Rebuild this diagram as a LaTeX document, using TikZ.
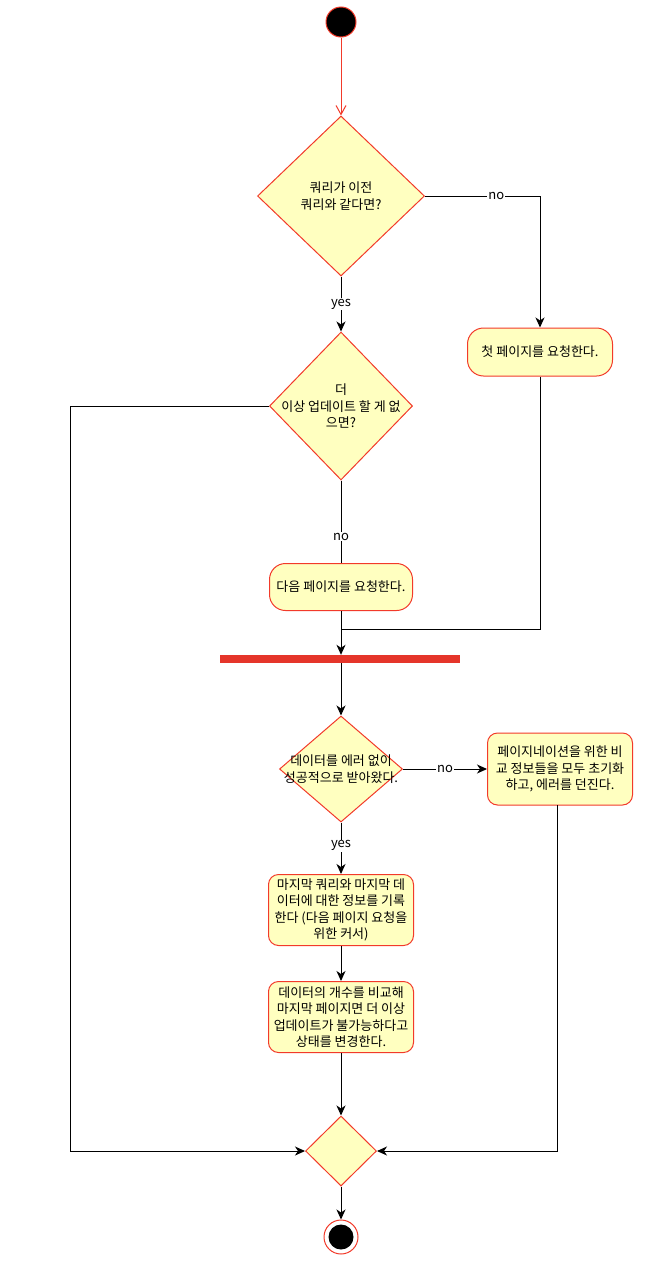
\documentclass[tikz,border=0pt]{standalone}
\usepackage{fontspec}
\setmainfont{Noto Sans CJK KR}
\usetikzlibrary{shapes.geometric,arrows.meta}

\definecolor{actfill}{HTML}{FFFFC0}
\definecolor{actline}{HTML}{F23A2A}
\definecolor{barfill}{HTML}{E5352A}

\tikzset{
  x=1pt, y=-1pt,
  every node/.style={font=\fontsize{13}{16.5}\selectfont},
  action/.style={rectangle, draw=actline, fill=actfill, line width=1pt,
    rounded corners=10pt, align=center, inner sep=2pt},
  cond/.style={diamond, draw=actline, fill=actfill, line width=1pt, inner sep=0pt},
  ctext/.style={align=center},
  flow/.style={line width=1pt, -{Stealth[length=10pt, width=9pt, inset=3pt]}},
  line/.style={line width=1pt},
  lbl/.style={fill=white, inner sep=1pt},
}

\begin{document}
\begin{tikzpicture}
\useasboundingbox (0,0) rectangle (660,1282);
\node[circle, fill=black, draw=actline, line width=1pt, minimum size=30pt, inner sep=0pt] (start) at (341,22) {};
\node[cond, minimum width=167pt, minimum height=160pt,
  label={[ctext]center:{쿼리가 이전\\쿼리와 같다면?}}] (q1) at (341,196) {};
\node[action, rounded corners=16pt, minimum width=145pt, minimum height=48pt] (first) at (540,352) {첫 페이지를 요청한다.};
\node[cond, minimum width=143pt, minimum height=148pt,
  label={[ctext]center:{더\\이상 업데이트 할 게 없\\으면?}}] (q2) at (341,406) {};
\node[action, rounded corners=16pt, minimum width=143pt, minimum height=47pt] (next) at (341,587) {다음 페이지를 요청한다.};
\node[rectangle, fill=barfill, minimum width=240pt, minimum height=8pt, inner sep=0pt] (bar) at (340,659) {};
\coordinate (meet) at (341,629);
\node[cond, minimum width=123pt, minimum height=106pt,
  label={[ctext]center:{데이터를 에러 없이\\성공적으로 받아왔다.}}] (q3) at (341,769) {};
\node[action, minimum width=145pt, minimum height=72pt] (reset) at (560,769) {페이지네이션을 위한 비\\교 정보들을 모두 초기화\\하고, 에러를 던진다.};
\coordinate (resetout) at (557,805);
\node[action, minimum width=145pt, minimum height=71pt] (record) at (341,910) {마지막 쿼리와 마지막 데\\이터에 대한 정보를 기록\\한다 (다음 페이지 요청을\\위한 커서)};
\node[action, minimum width=145pt, minimum height=71pt] (update) at (341,1017) {데이터의 개수를 비교해\\마지막 페이지면 더 이상\\업데이트가 불가능하다고\\상태를 변경한다.};
\node[cond, minimum width=71pt, minimum height=70pt] (merge) at (341,1151) {};
\node[circle, draw=actline, fill=white, line width=1pt, minimum size=34pt, inner sep=0pt] (stop) at (341,1237) {};
\fill (stop.center) circle (12.5);

% flows
\draw[line, actline, -{Straight Barb[length=9pt, width=10pt]}] (start) -- (q1);
\draw[flow] (q1.east) -| node[lbl, pos=0.31] {no} (first);
\draw[flow] (q1) -- node[lbl] {yes} (q2);
\draw[flow] (q2.west) -- ++(-199,0) |- (merge.west);
\draw[line] (q2) -- node[lbl, pos=0.68] {no} (next);
\draw[flow] (next) -- (bar.north -| next);
\draw[line] (first) |- (meet);
\draw[flow] (bar.south -| q3) -- (q3);
\draw[flow] (q3) -- node[lbl] {no} (reset);
\draw[flow] (q3) -- node[lbl, pos=0.45] {yes} (record);
\draw[flow] (record) -- (update);
\draw[flow] (update) -- (merge);
\draw[flow] (resetout) |- (merge.east);
\draw[flow] (merge) -- (stop);
\end{tikzpicture}
\end{document}
